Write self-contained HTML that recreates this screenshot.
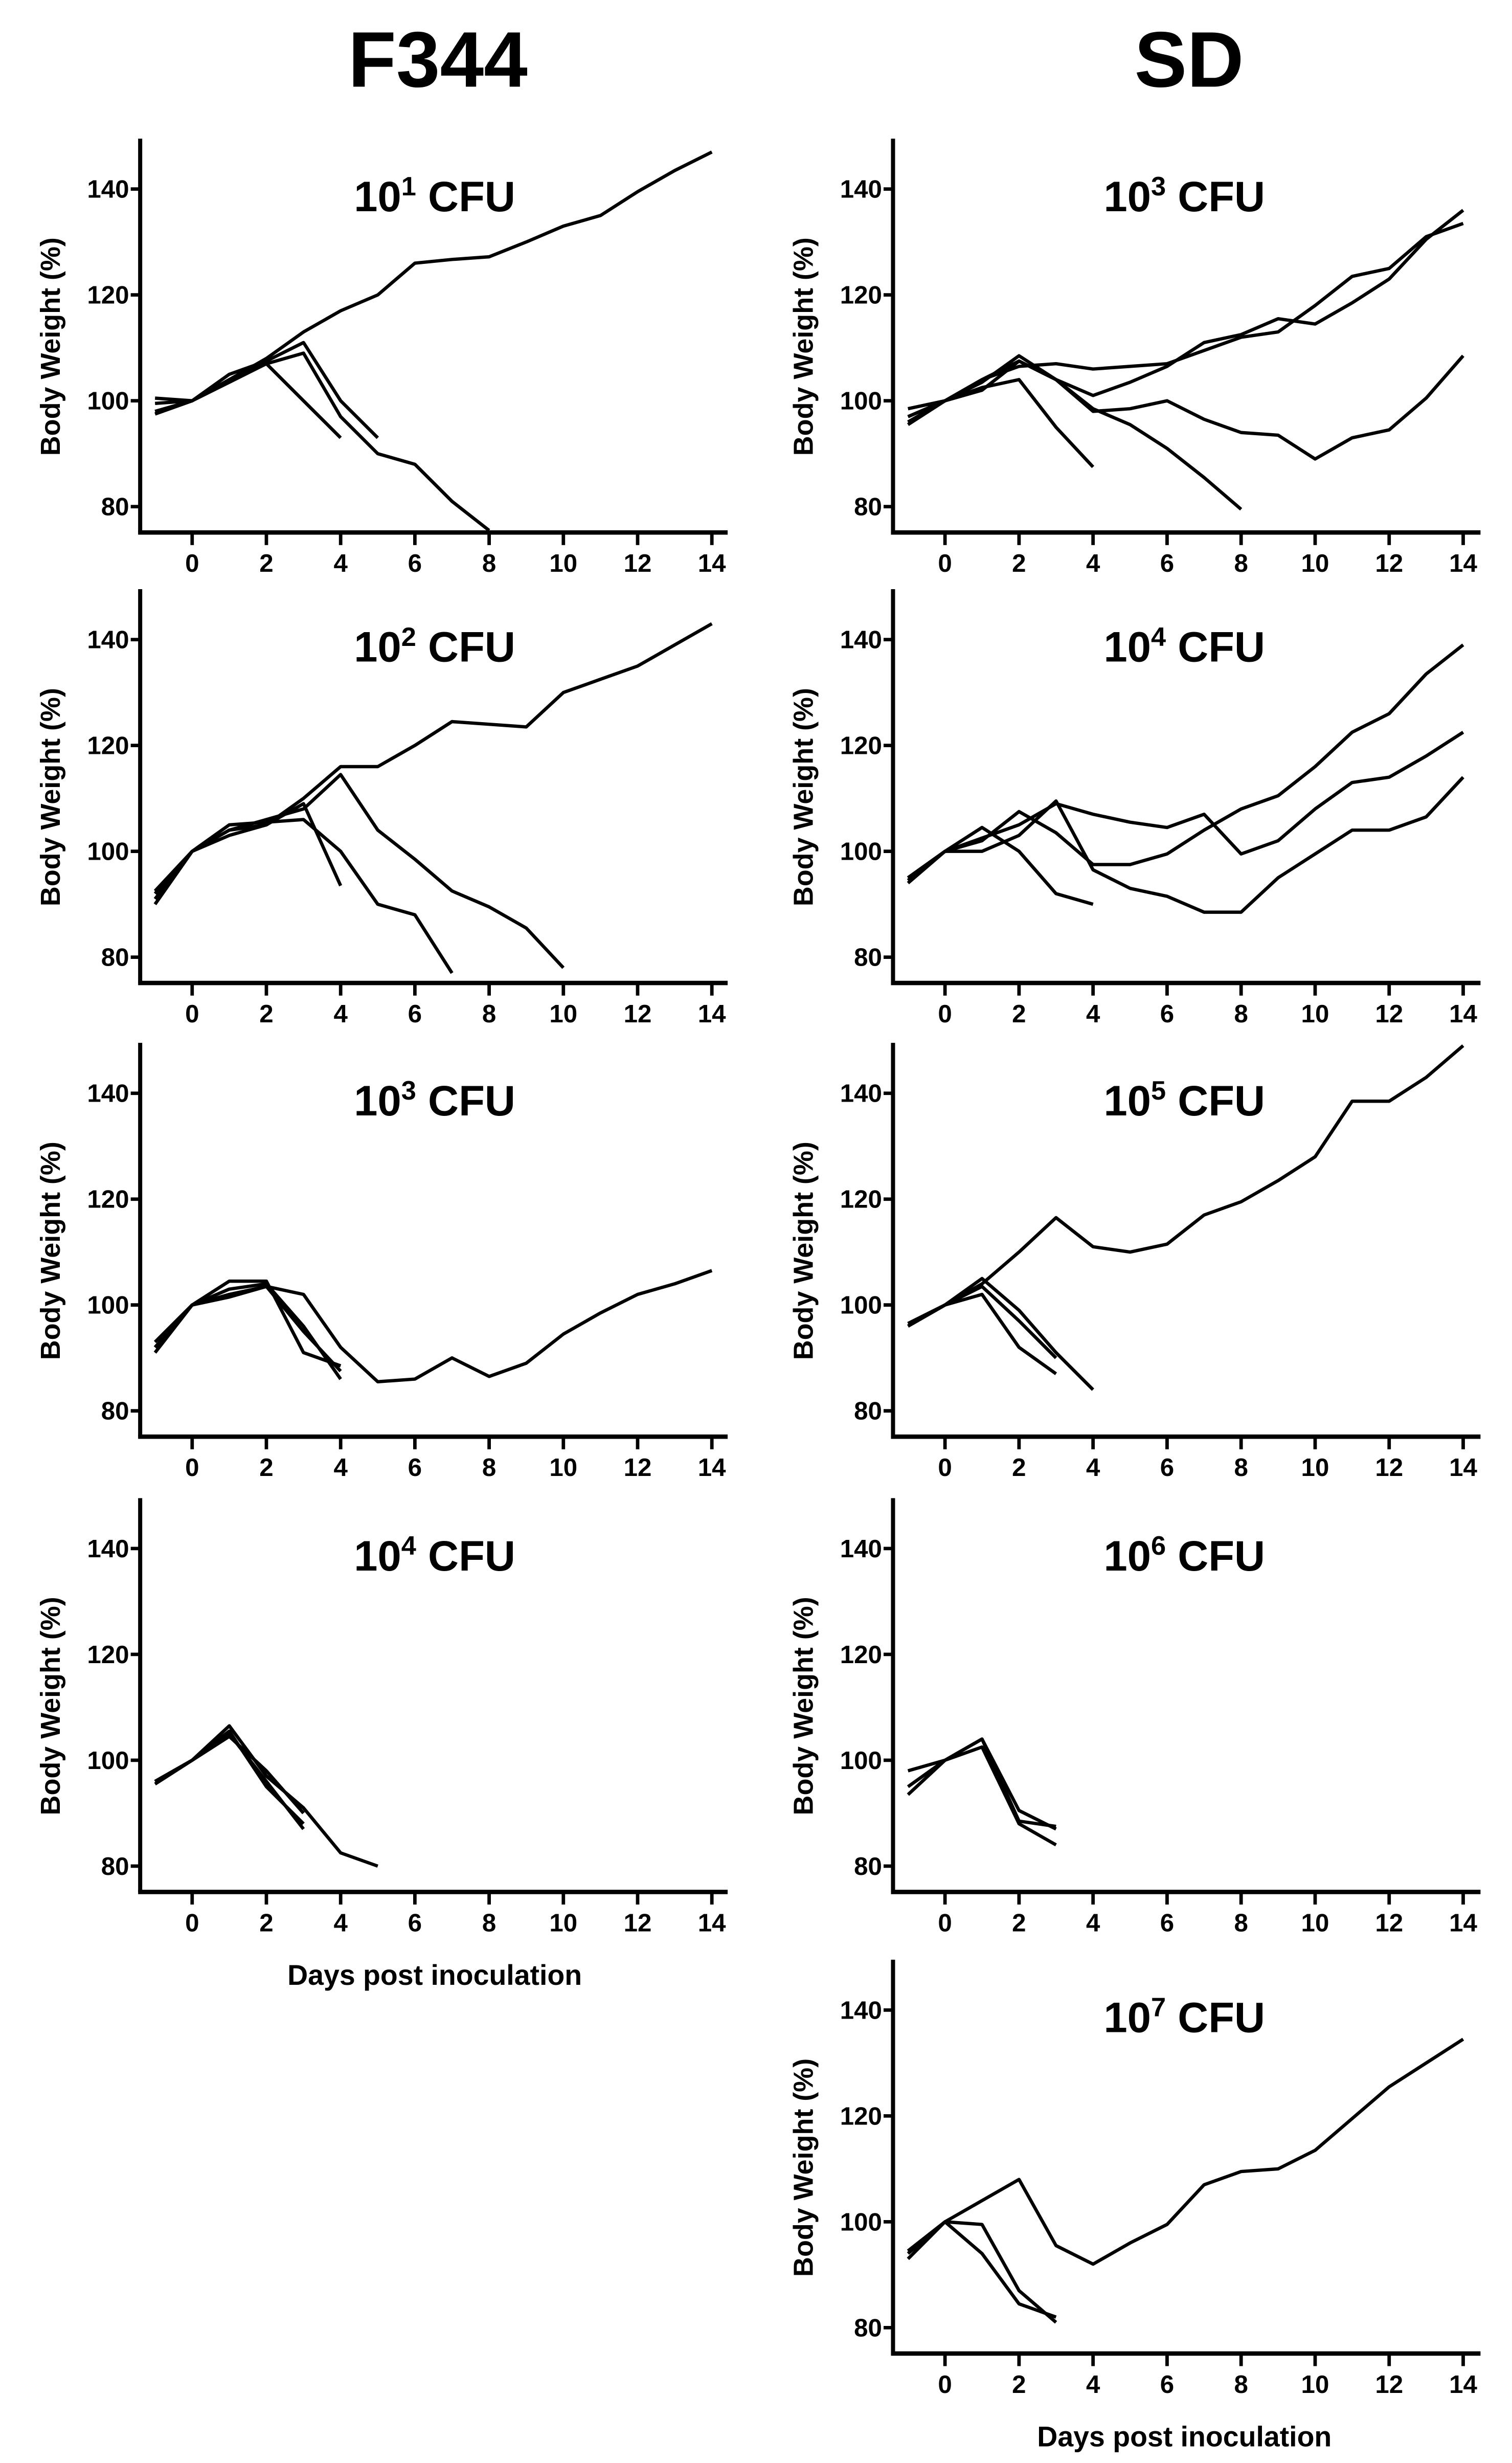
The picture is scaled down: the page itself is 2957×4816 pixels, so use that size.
<!DOCTYPE html>
<html><head><meta charset="utf-8">
<style>
html,body{margin:0;padding:0;background:#fff;}
svg{display:block;}
text{font-family:"Liberation Sans Narrow","Liberation Sans",sans-serif;font-weight:bold;fill:#000;}
</style></head>
<body>
<svg id="fig" width="2957" height="4816" viewBox="0 0 960 1563.5" xmlns="http://www.w3.org/2000/svg">
<text x="278" y="55" font-size="50" text-anchor="middle" font-family="Liberation Sans, sans-serif" style="font-family:'Liberation Sans',sans-serif">F344</text>
<text x="755" y="55" font-size="50" text-anchor="middle" style="font-family:'Liberation Sans',sans-serif">SD</text>
</svg>
<script>
const days = [-1,0,1,2,3,4,5,6,7,8,9,10,11,12,13,14];
const xTicks = [0,2,4,6,8,10,12,14];
const yTicks = [80,100,120,140];
const panelNames = ["f344-1e1","f344-1e2","f344-1e3","f344-1e4","sd-1e3","sd-1e4","sd-1e5","sd-1e6","sd-1e7"];
const panelExps = ["1","2","3","4","3","4","5","6","7"];
// series values per panel (index aligned with days, starting at day -1)
const f344_1e1 = [
 [98,100,104,108,113,117,120,126,126.7,127.2,130,133,135,139.5,143.5,147],
 [100.5,100,105,107.5,111,100,93],
 [97.5,100,104,107,109,97,90,88,81,75.5],
 [99.5,100,103.5,107,100,93]
];
const f344_1e2 = [
 [92,100,103,105,110,116,116,120,124.5,124,123.5,130,132.5,135,139,143],
 [91,100,104,106,108,114.5,104,98.5,92.5,89.5,85.5,78],
 [90,100,105,105.5,106,100,90,88,77],
 [92.5,100,104,105,109,93.5]
];
const f344_1e3 = [
 [92,100,101.5,103.5,102,92,85.5,86,90,86.5,89,94.5,98.5,102,104,106.5],
 [91,100,104.5,104.5,91,88.5],
 [93,100,103,104,96,86],
 [92,100,102,103.5,95,87.5]
];
const f344_1e4 = [
 [96,100,106.5,97,91,82.5,80],
 [95.5,100,105,96,87],
 [96,100,105.5,95,88],
 [96,100,104.5,98,90]
];
const sd_1e3 = [
 [98.5,100,104,106.5,107,106,106.5,107,109.5,112,113,118,123.5,125,131,133.5],
 [96,100,103.5,108.5,104,101,103.5,106.5,111,112.5,115.5,114.5,118.5,123,130.5,136],
 [97,100,102,107.5,104,98,98.5,100,96.5,94,93.5,89,93,94.5,100.5,108.5],
 [95.5,100,104,107.5,104,98.5,95.5,91,85.5,79.5],
 [97,100,102.5,104,95,87.5]
];
const sd_1e4 = [
 [95,100,104.5,100,92,90],
 [94,100,100,103,109.5,96.5,93,91.5,88.5,88.5,95,99.5,104,104,106.5,114],
 [94.5,100,102,107.5,103.5,97.5,97.5,99.5,104,108,110.5,116,122.5,126,133.5,139],
 [95,100,102.5,105,109,107,105.5,104.5,107,99.5,102,108,113,114,118,122.5]
];
const sd_1e5 = [
 [96,100,104,110,116.5,111,110,111.5,117,119.5,123.5,128,138.5,138.5,143,149],
 [96,100,105,99,91,84],
 [96.5,100,102,92,87],
 [96,100,103.5,97,90]
];
const sd_1e6 = [
 [98,100,104,88.5,87.5],
 [93.5,100,104,90.5,87],
 [95,100,102.5,88,84]
];
const sd_1e7 = [
 [94.5,100,104,108,95.5,92,96,99.5,107,109.5,110,113.5,119.5,125.5,130,134.5],
 [93,100,99.5,87,81],
 [94,100,94,84.5,82]
];
const panelData = [f344_1e1,f344_1e2,f344_1e3,f344_1e4,sd_1e3,sd_1e4,sd_1e5,sd_1e6,sd_1e7];

const NS = "http://www.w3.org/2000/svg";
const svg = document.getElementById('fig');
const cols = [{ax:89, x0:122, dx:23.57, end:462, ylab:32, tc:276},{ax:567, x0:600, dx:23.5, end:940, ylab:510, tc:752}];
const rowY140 = [120,406,694,983,1276];
const layout = [[0,0],[0,1],[0,2],[0,3],[1,0],[1,1],[1,2],[1,3],[1,4]];
function mk(tag, attrs, parent){const e=document.createElementNS(NS,tag);for(const k in attrs)e.setAttribute(k,attrs[k]);(parent||svg).appendChild(e);return e;}

layout.forEach((lr,pi)=>{
  const c = cols[lr[0]];
  const y140 = rowY140[lr[1]];
  const ppu = 67.2/20;
  const yS = v => y140 + (140 - v)*ppu;
  const xS = d => c.x0 + d*c.dx;
  const xAxisY = y140 + 218;
  const g = mk('g',{});
  
  
  // axes
  const ya = mk('line',{x1:c.ax,y1:y140-32,x2:c.ax,y2:xAxisY,stroke:'#000','stroke-width':2.6},g);
  
  
  const xa = mk('line',{x1:c.ax-1.3,y1:xAxisY,x2:c.end,y2:xAxisY,stroke:'#000','stroke-width':2.8},g);
  
  
  yTicks.forEach(t=>{
    const tk = mk('line',{x1:c.ax-6,y1:yS(t),x2:c.ax,y2:yS(t),stroke:'#000','stroke-width':2.2},g);
    
    
    const tl = mk('text',{x:c.ax-7,y:yS(t)+5.5,'font-size':16,'text-anchor':'end'},g);
    tl.textContent = t;
    
    
  });
  xTicks.forEach(t=>{
    const tk = mk('line',{x1:xS(t),y1:xAxisY,x2:xS(t),y2:xAxisY+8,stroke:'#000','stroke-width':2.2},g);
    
    
    const tl = mk('text',{x:xS(t),y:xAxisY+25,'font-size':16,'text-anchor':'middle'},g);
    tl.textContent = t;
    
    
  });
  // y label
  const yl = mk('text',{x:0,y:0,'font-size':17.5,'text-anchor':'middle',transform:`translate(${c.ylab+6},${y140+100}) rotate(-90)`},g);
  yl.textContent = 'Body Weight (%)';
  
  
  // title
  const tt = mk('text',{x:c.tc,y:y140+14,'font-size':27,'text-anchor':'middle'},g);
  
  
  const s1 = mk('tspan',{},tt); s1.textContent='10';
  const s2 = mk('tspan',{dy:-10,'font-size':17},tt); s2.textContent=panelExps[pi];
  const s3 = mk('tspan',{dy:10},tt); s3.textContent=' CFU';
  // series
  panelData[pi].forEach((ser,si)=>{
    const pts = ser.map((v,i)=>xS(days[i]).toFixed(2)+','+yS(v).toFixed(2)).join(' ');
    const pl = mk('polyline',{points:pts,fill:'none',stroke:'#000','stroke-width':2.1,'stroke-linejoin':'round'},g);
    
    
  });
});
const xl1 = mk('text',{x:276,y:1260,'font-size':18,'text-anchor':'middle'});
xl1.textContent='Days post inoculation';


const xl2 = mk('text',{x:752,y:1553,'font-size':18,'text-anchor':'middle'});
xl2.textContent='Days post inoculation';


</script>
</body></html>
